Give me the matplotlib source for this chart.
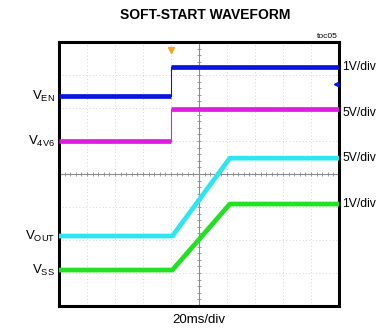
import numpy as np
import matplotlib.pyplot as plt

plt.rcParams['font.family'] = ['Liberation Sans', 'DejaVu Sans']
plt.rcParams['mathtext.fontset'] = 'custom'
plt.rcParams['mathtext.rm'] = 'Liberation Sans'

# scope traces, in screen divisions (x: 0..10, y: 0..8)
step_t = [0, 4.0, 4.0, 10]
ven = [6.36, 6.36, 7.24, 7.24]
v4v6 = [5.0, 5.0, 5.97, 5.97]
ramp_t = [0, 4.05, 6.1, 10]
vout = [2.12, 2.12, 4.48, 4.48]
vss = [1.09, 1.09, 3.09, 3.09]

left_labels = [r'V$_{\mathregular{EN}}$', r'V$_{\mathregular{4V6}}$',
               r'V$_{\mathregular{OUT}}$', r'V$_{\mathregular{SS}}$']
left_y = [6.36, 5.0, 2.12, 1.09]
right_labels = ['1V/div', '5V/div', '5V/div', '1V/div']
right_y = [7.24, 5.85, 4.48, 3.09]

fig = plt.figure(figsize=(3.77, 3.32), dpi=100)
ax = fig.add_axes([59 / 377, 1 - 306 / 332, 280 / 377, 264 / 332])
ax.set_xlim(0, 10)
ax.set_ylim(0, 8)

# graticule
for gx in range(1, 10):
    ax.axvline(gx, color='#c8c8c8', lw=0.6, ls=(0, (1, 3)), zorder=1)
for gy in range(1, 8):
    ax.axhline(gy, color='#c8c8c8', lw=0.6, ls=(0, (1, 3)), zorder=1)
ax.axvline(5, color='#8c8c8c', lw=0.8, zorder=1)
ax.axhline(4, color='#8c8c8c', lw=0.8, zorder=1)
tx = np.arange(0, 10.01, 0.2)
ty = np.arange(0, 8.01, 0.2)
ax.plot(tx, np.full_like(tx, 4), ls='none', marker='|', ms=3, mew=0.6, color='#8c8c8c', zorder=1)
ax.plot(np.full_like(ty, 5), ty, ls='none', marker='_', ms=3, mew=0.6, color='#8c8c8c', zorder=1)

lw = 3.4
# step traces: thick levels, thin fast edge
for vals, col in [(ven, '#0a14e0'), (v4v6, '#e21be2')]:
    ax.plot(step_t[:2], vals[:2], color=col, lw=lw, solid_capstyle='butt', zorder=3)
    ax.plot(step_t[2:], vals[2:], color=col, lw=lw, solid_capstyle='butt', zorder=3)
    ax.plot(step_t[1:3], vals[1:3], color=col, lw=0.8, zorder=3)
ax.plot(ramp_t, vout, color='#2ee6f0', lw=lw, zorder=3)
ax.plot(ramp_t, vss, color='#22e022', lw=lw, zorder=3)

# trigger marker and reference marker
ax.plot([4.0], [7.75], marker='v', ms=5, color='#f5a623', clip_on=False, zorder=4)
ax.plot([9.88], [6.72], marker='<', ms=3, color='#0a14e0', zorder=4)

for s in ax.spines.values():
    s.set_linewidth(2.2)
ax.set_xticks([])
ax.set_yticks([])

for lab, y in zip(left_labels, left_y):
    ax.text(-0.15, y, lab, ha='right', va='center', fontsize=9.5, clip_on=False)
for lab, y in zip(right_labels, right_y):
    ax.text(10.12, y, lab, ha='left', va='center', fontsize=8.7, clip_on=False)

fig.text(205 / 377, 1 - 15 / 332, 'SOFT-START WAVEFORM', ha='center', va='center',
         fontsize=10, fontweight='bold')
fig.text(338 / 377, 1 - 36 / 332, 'toc05', ha='right', va='center', fontsize=6)
fig.text(199 / 377, 1 - 320 / 332, '20ms/div', ha='center', va='center', fontsize=9.5)

fig.savefig('out.png', dpi=100)
